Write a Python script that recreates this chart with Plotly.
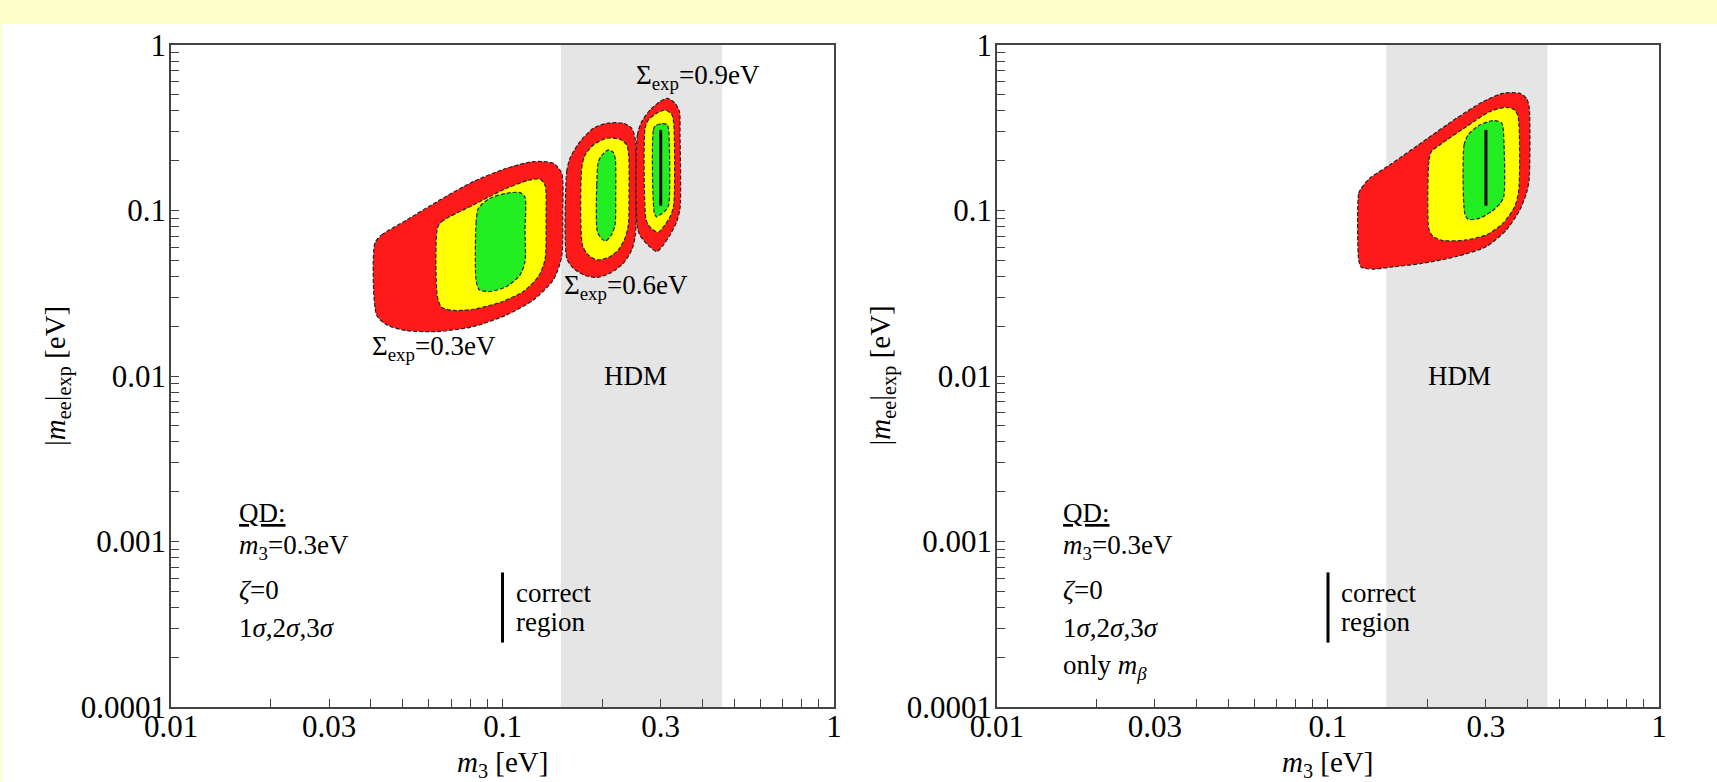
import plotly.graph_objects as go

# ---------------- data ----------------
# Left panel, Sigma_exp = 0.3 eV : 3 sigma (red), 2 sigma (yellow), 1 sigma (green)
s03_red_m3 = [0.0412, 0.0432, 0.0514, 0.0648, 0.0817, 0.1029, 0.1239, 0.1423, 0.1508, 0.1519,
              0.1508, 0.1423, 0.1239, 0.1029, 0.0817, 0.0648, 0.0514, 0.0447, 0.0417]
s03_red_mee = [0.0634, 0.0712, 0.0877, 0.1159, 0.1495, 0.1800, 0.1974, 0.1929, 0.1679, 0.0963,
               0.0527, 0.0381, 0.0288, 0.0234, 0.0199, 0.0186, 0.0188, 0.0204, 0.0234]
s03_yel_m3 = [0.0636, 0.0655, 0.0817, 0.1029, 0.1210, 0.1297, 0.1343, 0.1353, 0.1343, 0.1283,
              0.1156, 0.0983, 0.0817, 0.0711, 0.0655, 0.0636]
s03_yel_mee = [0.0782, 0.0857, 0.1081, 0.1363, 0.1530, 0.1544, 0.1427, 0.0877, 0.0503, 0.0399,
               0.0324, 0.0278, 0.0253, 0.0249, 0.0260, 0.0302]
s03_grn_m3 = [0.0832, 0.0832, 0.0846, 0.0917, 0.1029, 0.1129, 0.1169, 0.1169, 0.1169, 0.1129,
              0.1029, 0.0917, 0.0851]
s03_grn_mee = [0.0381, 0.0838, 0.1032, 0.1186, 0.1271, 0.1283, 0.1202, 0.0764, 0.0492, 0.0408,
               0.0347, 0.0324, 0.0332]

# Left panel, Sigma_exp = 0.6 eV
s06_red_m3 = [0.1562, 0.1562, 0.1598, 0.1713, 0.1880, 0.2062, 0.2315, 0.2453, 0.2516, 0.2528,
              0.2516, 0.2453, 0.2315, 0.2110, 0.1924, 0.1774, 0.1635]
s06_red_mee = [0.0515, 0.1718, 0.2069, 0.2608, 0.3140, 0.3365, 0.3365, 0.3140, 0.2670, 0.1427,
               0.0712, 0.0578, 0.0480, 0.0418, 0.0394, 0.0405, 0.0448]
s06_yel_m3 = [0.1741, 0.1733, 0.1774, 0.1880, 0.2062, 0.2262, 0.2369, 0.2402, 0.2408, 0.2397,
              0.2342, 0.2236, 0.2086, 0.1924, 0.1803]
s06_yel_mee = [0.0620, 0.1800, 0.2167, 0.2490, 0.2732, 0.2694, 0.2490, 0.2167, 0.1301, 0.0819,
               0.0680, 0.0578, 0.0520, 0.0503, 0.0545]
s06_grn_m3 = [0.1932, 0.1924, 0.1946, 0.1992, 0.2086, 0.2160, 0.2190, 0.2195, 0.2185, 0.2135,
              0.2052, 0.1992]
s06_grn_mee = [0.0746, 0.1427, 0.1974, 0.2147, 0.2323, 0.2238, 0.2021, 0.1243, 0.0819, 0.0719,
               0.0655, 0.0674]

# Left panel, Sigma_exp = 0.9 eV
s09_red_m3 = [0.2552, 0.2552, 0.2630, 0.2786, 0.2986, 0.3144, 0.3314, 0.3416, 0.3431, 0.3431,
              0.3353, 0.3201, 0.3056, 0.2918, 0.2754, 0.2611]
s09_red_mee = [0.0782, 0.2861, 0.3444, 0.4050, 0.4549, 0.4764, 0.4444, 0.3958, 0.2861, 0.1032,
               0.0857, 0.0712, 0.0620, 0.0565, 0.0614, 0.0696]
s09_yel_m3 = [0.2703, 0.2691, 0.2754, 0.2918, 0.3092, 0.3238, 0.3284, 0.3284, 0.3216, 0.3092,
              0.2952, 0.2818, 0.2735]
s09_yel_mee = [0.0898, 0.3140, 0.3525, 0.3867, 0.4050, 0.3814, 0.3365, 0.1081, 0.0932, 0.0819,
               0.0739, 0.0774, 0.0838]
s09_grn_m3 = [0.2871, 0.2851, 0.2898, 0.3021, 0.3129, 0.3165, 0.3172, 0.3114, 0.2986, 0.2918]
s09_grn_mee = [0.0963, 0.3068, 0.3258, 0.3350, 0.3319, 0.3140, 0.1081, 0.1009, 0.0941, 0.0915]

# Right panel (only m_beta)
r_red_m3 = [0.1238, 0.1238, 0.1261, 0.1336, 0.1536, 0.1937, 0.2443, 0.2941, 0.3381, 0.3796,
            0.3977, 0.4051, 0.4051, 0.3977, 0.3796, 0.3460, 0.3010, 0.2443, 0.1937, 0.1536,
            0.1367, 0.1261]
r_red_mee = [0.0503, 0.1271, 0.1363, 0.1566, 0.1885, 0.2607, 0.3607, 0.4548, 0.5106, 0.5106,
             0.4764, 0.4242, 0.1530, 0.1271, 0.1008, 0.0764, 0.0606, 0.0527, 0.0480, 0.0454,
             0.0442, 0.0454]
r_yel_m3 = [0.2019, 0.2019, 0.2052, 0.2175, 0.2619, 0.3081, 0.3460, 0.3667, 0.3753, 0.3771,
            0.3667, 0.3381, 0.3010, 0.2619, 0.2226, 0.2076]
r_yel_mee = [0.0764, 0.2021, 0.2269, 0.2490, 0.3212, 0.3958, 0.4203, 0.4050, 0.3692, 0.1331,
             0.1056, 0.0838, 0.0712, 0.0664, 0.0658, 0.0696]
r_grn_m3 = [0.2589, 0.2577, 0.2650, 0.2873, 0.3155, 0.3342, 0.3381, 0.3396, 0.3303, 0.3117,
            0.2873, 0.2650]
r_grn_mee = [0.0963, 0.2490, 0.2861, 0.3288, 0.3491, 0.3395, 0.3139, 0.1214, 0.1096, 0.0985,
             0.0898, 0.0886]

# correct region (m3 = 0.3 eV) and legend bar
correct_m3 = [0.3, 0.3]
correct_mee = [0.107, 0.307]
legend_bar_m3 = [0.1, 0.1]
legend_bar_mee = [0.000245, 0.00065]

# HDM band
hdm_m3 = [0.15, 0.46]

# ticks
x_tickvals = [0.01, 0.02, 0.03, 0.04, 0.05, 0.06, 0.07, 0.08, 0.09,
              0.1, 0.2, 0.3, 0.4, 0.5, 0.6, 0.7, 0.8, 0.9, 1]
x_ticktext = ["0.01", "", "0.03", "", "", "", "", "", "",
              "0.1", "", "0.3", "", "", "", "", "", "", "1"]
y_tickvals = []
y_ticktext = []
for dec, lab in [(0.0001, "0.0001"), (0.001, "0.001"), (0.01, "0.01"), (0.1, "0.1")]:
    for k in range(1, 10):
        y_tickvals.append(round(dec * k, 6))
        y_ticktext.append(lab if k == 1 else "")
y_tickvals.append(1)
y_ticktext.append("1")

# ---------------- figure ----------------
RED = "#FF1A1A"
YELLOW = "#FFFF00"
GREEN = "#22EE22"
FONT = "Liberation Serif"
FS = 27
TICKFS = 31
TITLEFS = 29

fig = go.Figure()


def region(xs, ys, color, xa, ya):
    fig.add_trace(go.Scatter(
        x=xs + xs[:1], y=ys + ys[:1], mode="lines", fill="toself", fillcolor=color,
        line=dict(color="#222222", width=1.2, dash="4px,2px", shape="spline", smoothing=0.7),
        xaxis=xa, yaxis=ya, hoverinfo="skip", showlegend=False))


for xs, ys, c in [(s03_red_m3, s03_red_mee, RED), (s03_yel_m3, s03_yel_mee, YELLOW),
                  (s03_grn_m3, s03_grn_mee, GREEN),
                  (s06_red_m3, s06_red_mee, RED), (s06_yel_m3, s06_yel_mee, YELLOW),
                  (s06_grn_m3, s06_grn_mee, GREEN),
                  (s09_red_m3, s09_red_mee, RED), (s09_yel_m3, s09_yel_mee, YELLOW),
                  (s09_grn_m3, s09_grn_mee, GREEN)]:
    region(xs, ys, c, "x", "y")

for xs, ys, c in [(r_red_m3, r_red_mee, RED), (r_yel_m3, r_yel_mee, YELLOW),
                  (r_grn_m3, r_grn_mee, GREEN)]:
    region(xs, ys, c, "x2", "y2")

for xa, ya in [("x", "y"), ("x2", "y2")]:
    fig.add_trace(go.Scatter(x=correct_m3, y=correct_mee, mode="lines",
                             line=dict(color="black", width=3), xaxis=xa, yaxis=ya,
                             hoverinfo="skip", showlegend=False))
    fig.add_trace(go.Scatter(x=legend_bar_m3, y=legend_bar_mee, mode="lines",
                             line=dict(color="black", width=3), xaxis=xa, yaxis=ya,
                             hoverinfo="skip", showlegend=False))

shapes = []
for xr, yr in [("x", "y domain"), ("x2", "y2 domain")]:
    shapes.append(dict(type="rect", xref=xr, yref=yr, x0=hdm_m3[0], x1=hdm_m3[1], y0=0, y1=1,
                       fillcolor="#E5E5E5", line=dict(width=0), layer="below"))
# page decoration: yellow header band and thin left strip
shapes.append(dict(type="rect", xref="paper", yref="paper", x0=-0.12, x1=1.05, y0=1.0317, y1=1.08,
                   fillcolor="#FFFFCC", line=dict(width=0), layer="below"))
shapes.append(dict(type="rect", xref="paper", yref="paper", x0=-0.12, x1=-0.1136, y0=-0.12, y1=1.08,
                   fillcolor="#FFFFCC", line=dict(width=0), layer="below"))

ann = []


def txt(text, xr, yr, x, y, xanchor="left", yanchor="middle", angle=0, size=FS):
    ann.append(dict(text=text, xref=xr, yref=yr, x=x, y=y, xanchor=xanchor, yanchor=yanchor,
                    showarrow=False, textangle=angle, font=dict(family=FONT, size=size, color="black")))


# left panel labels
txt("Σ<sub>exp</sub>=0.9eV", "x domain", "y domain", 0.699, 0.952)
txt("Σ<sub>exp</sub>=0.6eV", "x domain", "y domain", 0.589, 0.635)
txt("Σ<sub>exp</sub>=0.3eV", "x domain", "y domain", 0.300, 0.543)
txt("HDM", "x domain", "y domain", 0.6998, 0.5, xanchor="center")
for xr, yr, xq, xc, extra in [("x domain", "y domain", 0.100, 0.518, False),
                               ("x2 domain", "y2 domain", 0.097, 0.517, True)]:
    txt("<u>QD:</u>", xr, yr, xq, 0.293)
    txt("<i>m</i><sub>3</sub>=0.3eV", xr, yr, xq, 0.2417)
    txt("<i>ζ</i>=0", xr, yr, xq, 0.1767)
    txt("1<i>σ</i>,2<i>σ</i>,3<i>σ</i>", xr, yr, xq, 0.1193)
    txt("correct", xr, yr, xc, 0.1722)
    txt("region", xr, yr, xc, 0.1284)
    if extra:
        txt("only <i>m</i><sub><i>β</i></sub>", xr, yr, xq, 0.0604)
txt("HDM", "x2 domain", "y2 domain", 0.699, 0.5, xanchor="center")

# axis titles
txt("<i>m</i><sub>3</sub> [eV]", "x domain", "paper", 0.5, -0.086, xanchor="center", size=TITLEFS)
txt("<i>m</i><sub>3</sub> [eV]", "x2 domain", "paper", 0.5, -0.086, xanchor="center", size=TITLEFS)
txt("|<i>m</i><sub>ee</sub>|<sub>exp</sub> [eV]", "paper", "paper", -0.0766, 0.5,
    xanchor="center", angle=-90, size=TITLEFS)
txt("|<i>m</i><sub>ee</sub>|<sub>exp</sub> [eV]", "paper", "paper", 0.4775, 0.5,
    xanchor="center", angle=-90, size=TITLEFS)

axis_common = dict(type="log", showline=True, linecolor="#444444", linewidth=1.5, mirror=True,
                   ticks="inside", ticklen=8, tickwidth=1, tickcolor="#444444",
                   tickmode="array", showgrid=False, zeroline=False,
                   tickfont=dict(family=FONT, size=TICKFS, color="black"))

fig.update_layout(
    width=1717, height=782,
    margin=dict(l=171, r=58, t=45, b=75),
    paper_bgcolor="white", plot_bgcolor="white",
    showlegend=False,
    xaxis=dict(domain=[0, 0.4456], range=[-2, 0], anchor="y", ticklabelstandoff=-9,
               tickvals=x_tickvals, ticktext=x_ticktext, **axis_common),
    yaxis=dict(domain=[0, 1], range=[-4, 0], anchor="x", ticklabelstandoff=-3,
               tickvals=y_tickvals, ticktext=y_ticktext, **axis_common),
    xaxis2=dict(domain=[0.5551, 1], range=[-2, 0], anchor="y2", ticklabelstandoff=-9,
                tickvals=x_tickvals, ticktext=x_ticktext, **axis_common),
    yaxis2=dict(domain=[0, 1], range=[-4, 0], anchor="x2", ticklabelstandoff=-3,
                tickvals=y_tickvals, ticktext=y_ticktext, **axis_common),
    shapes=shapes,
    annotations=ann,
)

fig.write_html("out.html", config={"displayModeBar": False},
               post_script="document.body.style.margin='0';")
